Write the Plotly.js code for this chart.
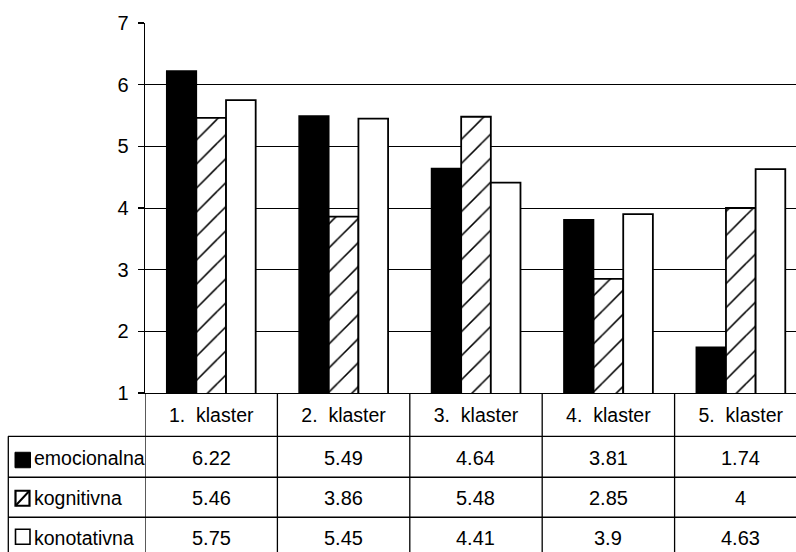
<!DOCTYPE html>
<html>
<head>
<meta charset="utf-8">
<script src="https://cdn.plot.ly/plotly-3.0.1.min.js"></script>
<style>html,body{margin:0;padding:0;background:#fff;}#chart{width:796px;height:552px;}</style>
</head>
<body>
<div id="chart"></div>
<script>
// ---- data ----
var categories = ['1. klaster', '2. klaster', '3. klaster', '4. klaster', '5. klaster'];
var seriesNames = ['emocionalna', 'kognitivna', 'konotativna'];
var emocionalna = [6.22, 5.49, 4.64, 3.81, 1.74];
var kognitivna = [5.46, 3.86, 5.48, 2.85, 4];
var konotativna = [5.75, 5.45, 4.41, 3.9, 4.63];
var yTicks = [1, 2, 3, 4, 5, 6, 7];

// ---- geometry helpers (pixel -> paper) ----
var W = 796, H = 552;
var mL = 145, mR = 0, mT = 22.5, mB = 552 - 392.7;
var plotW = W - mL - mR, plotH = H - mT - mB;
function py(p) { return (H - mB - p) / plotH; }
function px(p) { return (p - mL) / plotW; }

var FONT = 'Liberation Sans, Arial, Helvetica, sans-serif';
var seriesValues = [emocionalna, kognitivna, konotativna];

var traces = [
  {type: 'bar', name: seriesNames[0], x: categories, y: emocionalna,
   marker: {color: '#000000', line: {color: '#000000', width: 1.5}}, hoverinfo: 'y'},
  {type: 'bar', name: seriesNames[1], x: categories, y: kognitivna,
   marker: {color: '#ffffff', line: {color: '#000000', width: 1.8},
            pattern: {shape: '/', fgcolor: '#000000', bgcolor: '#ffffff', size: 17, solidity: 0.09}}, hoverinfo: 'y'},
  {type: 'bar', name: seriesNames[2], x: categories, y: konotativna,
   marker: {color: '#ffffff', line: {color: '#000000', width: 1.8}}, hoverinfo: 'y'}
];

var shapes = [];
var annotations = [];
var rowLines = [436, 477, 517];
rowLines.forEach(function (yy) {
  shapes.push({type: 'line', xref: 'paper', yref: 'paper', x0: px(8), x1: px(800), y0: py(yy), y1: py(yy),
               line: {color: '#000', width: 1.3}});
});
shapes.push({type: 'line', xref: 'paper', yref: 'paper', x0: px(8.3), x1: px(8.3), y0: py(436), y1: py(560),
             line: {color: '#000', width: 1.3}});
for (var k = 0; k < categories.length; k++) {
  shapes.push({type: 'line', xref: 'x', yref: 'paper', x0: k - 0.5, x1: k - 0.5, y0: py(392.7), y1: py(560),
               line: {color: '#000', width: 1.3}});
}
var rowCenters = [457.5, 497.5, 537.5];
seriesValues.forEach(function (vals, r) {
  vals.forEach(function (v, c) {
    annotations.push({xref: 'x', yref: 'paper', x: c, y: py(rowCenters[r]), text: String(v),
                      showarrow: false, xanchor: 'center', yanchor: 'middle',
                      font: {family: FONT, size: 20, color: '#000'}});
  });
  annotations.push({xref: 'paper', yref: 'paper', x: px(31.5), y: py(rowCenters[r]), text: seriesNames[r],
                    showarrow: false, xanchor: 'left', yanchor: 'middle',
                    font: {family: FONT, size: 19.5, color: '#000'}});
});
var keyTop = [452, 490.5, 529];
shapes.push({type: 'rect', xref: 'paper', yref: 'paper', x0: px(15), x1: px(30.5), y0: py(keyTop[0]), y1: py(keyTop[0] + 15.5),
             fillcolor: '#000', line: {color: '#000', width: 1}});
shapes.push({type: 'rect', xref: 'paper', yref: 'paper', x0: px(15.5), x1: px(29.5), y0: py(keyTop[1]), y1: py(keyTop[1] + 15),
             fillcolor: '#fff', line: {color: '#000', width: 2.2}});
shapes.push({type: 'line', xref: 'paper', yref: 'paper', x0: px(15.5), x1: px(29.5), y0: py(keyTop[1] + 15), y1: py(keyTop[1]),
             line: {color: '#000', width: 2}});
shapes.push({type: 'rect', xref: 'paper', yref: 'paper', x0: px(15.5), x1: px(30), y0: py(keyTop[2]), y1: py(keyTop[2] + 15),
             fillcolor: '#fff', line: {color: '#000', width: 1.6}});

var layout = {
  width: W, height: H,
  margin: {l: mL, r: mR, t: mT, b: mB, pad: 0},
  paper_bgcolor: '#fff', plot_bgcolor: '#fff',
  font: {family: FONT, size: 19, color: '#000'},
  showlegend: false,
  barmode: 'group', bargap: 0.328, bargroupgap: 0,
  xaxis: {type: 'category', range: [-0.5, 4.417], showgrid: false, zeroline: false,
          showline: true, linecolor: '#000', linewidth: 1.3, ticks: '',
          tickmode: 'array', tickvals: categories,
          ticktext: categories.map(function (c) { return c.replace(' ', '\u00a0 '); }),
          tickfont: {family: FONT, size: 19.5, color: '#000'}, ticklabelstandoff: 4},
  yaxis: {range: [1, 7], tickmode: 'array', tickvals: yTicks, ticktext: yTicks.map(String),
          showgrid: true, gridcolor: '#000', gridwidth: 1, zeroline: false,
          showline: true, linecolor: '#000', linewidth: 1.3,
          ticks: 'outside', ticklen: 6, tickcolor: '#000', tickwidth: 1.2,
          tickfont: {family: FONT, size: 20, color: '#000'}, ticklabelstandoff: 5},
  shapes: shapes,
  annotations: annotations
};

Plotly.newPlot('chart', traces, layout, {displayModeBar: false, staticPlot: true});
</script>
</body>
</html>
